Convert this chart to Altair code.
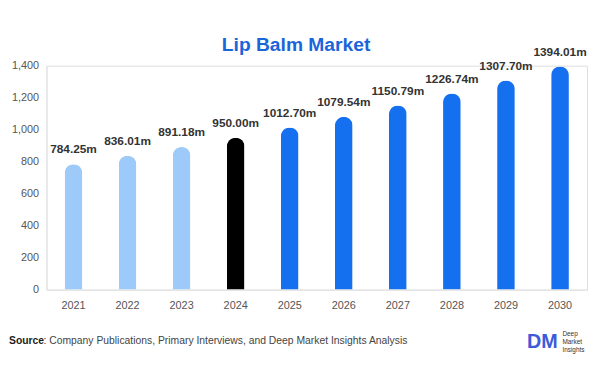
import altair as alt
import pandas as pd

years = ["2021", "2022", "2023", "2024", "2025", "2026", "2027", "2028", "2029", "2030"]
values = [784.25, 836.01, 891.18, 950.00, 1012.70, 1079.54, 1150.79, 1226.74, 1307.70, 1394.01]
labels = ["784.25m", "836.01m", "891.18m", "950.00m", "1012.70m", "1079.54m", "1150.79m", "1226.74m", "1307.70m", "1394.01m"]
phase = ["hist", "hist", "hist", "base", "fc", "fc", "fc", "fc", "fc", "fc"]
y_ticks = [0, 200, 400, 600, 800, 1000, 1200, 1400]

df = pd.DataFrame({"year": years, "value": values, "label": labels, "phase": phase})

W, H = 548, 227
FONT = "Liberation Sans"

x = alt.X("year:N", sort=years, title=None,
          axis=alt.Axis(labelAngle=0, labelColor="#555", labelFontSize=11, labelFont=FONT,
                        domainColor="#e3e3e3", ticks=False, labelPadding=10))
y = alt.Y("value:Q", title=None, scale=alt.Scale(domain=[0, 1400], nice=False),
          axis=alt.Axis(values=y_ticks, format=",.0f", labelColor="#555", labelFontSize=11,
                        labelFont=FONT, domainColor="#e3e3e3", ticks=False, grid=False,
                        labelPadding=8))

color = alt.Color("phase:N", legend=None,
                  scale=alt.Scale(domain=["hist", "base", "fc"],
                                  range=["#9dcaf8", "#000000", "#1570ef"]))

base = alt.Chart(df).encode(x=x, y=y)

bars = base.mark_bar(size=18, cornerRadiusTopLeft=9, cornerRadiusTopRight=9).encode(color=color)

text = base.mark_text(baseline="bottom", dy=-8, fontWeight="bold", fontSize=12,
                      font=FONT, color="#333").encode(text="label:N")

one = pd.DataFrame({"k": [0]})

title = alt.Chart(one).mark_text(text="Lip Balm Market", fontSize=19.5, fontWeight="bold",
                                 font=FONT, color="#1a66d9", align="center", baseline="middle").encode(
    x=alt.value(253), y=alt.value(-21))

src_bold = alt.Chart(one).mark_text(text="Source", fontSize=10.5, fontWeight="bold", font=FONT,
                                    color="#222", align="left", baseline="middle").encode(
    x=alt.value(-38), y=alt.value(52 + H))
src_rest = alt.Chart(one).mark_text(text=": Company Publications, Primary Interviews, and Deep Market Insights Analysis",
                                    fontSize=10.5, font=FONT, color="#444", align="left",
                                    baseline="middle").encode(
    x=alt.value(-3), y=alt.value(52 + H))

logo = alt.Chart(one).mark_text(text="DM", fontSize=20, fontWeight="bold", font=FONT,
                                color="#3b5bdb", align="left", baseline="middle").encode(
    x=alt.value(487), y=alt.value(53 + H))
logo_txt = alt.Chart(pd.DataFrame({"t": ["Deep", "Market", "Insights"], "py": [45 + H, 53 + H, 61 + H]})).mark_text(
    fontSize=6.5, font=FONT, color="#333", align="left", baseline="middle").encode(
    x=alt.value(523), y=alt.Y("py:Q", scale=None, axis=None), text="t:N")

chart = alt.layer(bars, text, title, src_bold, src_rest, logo, logo_txt).properties(
    width=W, height=H,
    autosize=alt.AutoSizeParams(type="none"),
    padding={"left": 39, "top": 56, "right": 5, "bottom": 75},
).configure_view(strokeWidth=0).configure(background="white")

chart.save("out.html", embed_options={"renderer": "svg", "actions": False})
